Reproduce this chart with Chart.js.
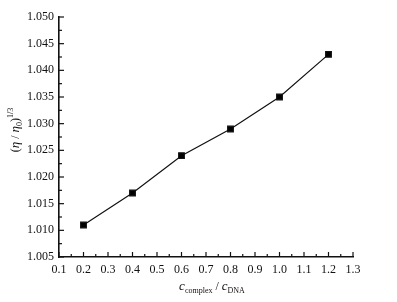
<!DOCTYPE html>
<html>
<head>
<meta charset="utf-8">
<script src="https://cdn.jsdelivr.net/npm/chart.js@4.4.1/dist/chart.umd.min.js"></script>
<style>
  body { margin: 0; background: #fff; }
  canvas { display: block; }
</style>
</head>
<body>
<canvas id="viscChart" width="397" height="302"></canvas>
<script>
// ratio c(complex)/c(DNA) and relative viscosity (eta/eta0)^(1/3)
const ratios = [0.2, 0.4, 0.6, 0.8, 1.0, 1.2];
const viscosity = [1.011, 1.017, 1.024, 1.029, 1.035, 1.043];

const xRange = [0.1, 1.3];
const yRange = [1.005, 1.050];

const serif = "'Liberation Serif', 'DejaVu Serif', serif";

// inward major + minor tick marks, like the origin-style plot
const tickPlugin = {
  id: 'inTicks',
  afterDraw(chart) {
    const ctx = chart.ctx;
    const xs = chart.scales.x, ys = chart.scales.y;
    const area = chart.chartArea;
    ctx.save();
    ctx.strokeStyle = '#111';
    ctx.lineWidth = 1.2;
    const xt = xs.ticks.map(t => t.value);
    for (let i = 0; i < xt.length; i++) {
      const px = xs.getPixelForValue(xt[i]);
      ctx.beginPath();
      ctx.moveTo(px, area.bottom);
      ctx.lineTo(px, area.bottom - 5);
      ctx.stroke();
      if (i < xt.length - 1) {
        const mx = xs.getPixelForValue((xt[i] + xt[i + 1]) / 2);
        ctx.beginPath();
        ctx.moveTo(mx, area.bottom);
        ctx.lineTo(mx, area.bottom - 3);
        ctx.stroke();
      }
    }
    const yt = ys.ticks.map(t => t.value);
    for (let i = 0; i < yt.length; i++) {
      const py = ys.getPixelForValue(yt[i]);
      ctx.beginPath();
      ctx.moveTo(area.left, py);
      ctx.lineTo(area.left + 5, py);
      ctx.stroke();
      if (i < yt.length - 1) {
        const my = ys.getPixelForValue((yt[i] + yt[i + 1]) / 2);
        ctx.beginPath();
        ctx.moveTo(area.left, my);
        ctx.lineTo(area.left + 3, my);
        ctx.stroke();
      }
    }
    ctx.restore();
  }
};

// axis titles with sub/superscripts
function drawRuns(ctx, runs, x, y) {
  let cx = x;
  runs.forEach(r => {
    ctx.font = r.font;
    ctx.fillText(r.text, cx, y + (r.dy || 0));
    cx += ctx.measureText(r.text).width;
  });
}
function runsWidth(ctx, runs) {
  let w = 0;
  runs.forEach(r => { ctx.font = r.font; w += ctx.measureText(r.text).width; });
  return w;
}

const titlePlugin = {
  id: 'titles',
  afterDraw(chart) {
    const ctx = chart.ctx;
    const area = chart.chartArea;
    ctx.save();
    ctx.fillStyle = '#111';
    ctx.textBaseline = 'alphabetic';

    const xRuns = [
      { text: 'c', font: 'italic 13px ' + serif },
      { text: 'complex', font: '8px ' + serif, dy: 3 },
      { text: ' / ', font: '12px ' + serif },
      { text: 'c', font: 'italic 13px ' + serif },
      { text: 'DNA', font: '8px ' + serif, dy: 3 }
    ];
    const xw = runsWidth(ctx, xRuns);
    drawRuns(ctx, xRuns, 212 - xw / 2, 290);

    const yRuns = [
      { text: '(', font: '12px ' + serif },
      { text: 'η', font: 'italic 13px ' + serif },
      { text: ' / ', font: '12px ' + serif },
      { text: 'η', font: 'italic 13px ' + serif },
      { text: '0', font: '8px ' + serif, dy: 3 },
      { text: ')', font: '12px ' + serif },
      { text: '1/3', font: '8px ' + serif, dy: -6 }
    ];
    const yw = runsWidth(ctx, yRuns);
    ctx.translate(19, 130);
    ctx.rotate(-Math.PI / 2);
    drawRuns(ctx, yRuns, -yw / 2, 0);
    ctx.restore();
  }
};

new Chart(document.getElementById('viscChart'), {
  type: 'scatter',
  data: {
    datasets: [{
      data: ratios.map((r, i) => ({ x: r, y: viscosity[i] })),
      showLine: true,
      borderColor: '#111',
      borderWidth: 1.2,
      backgroundColor: '#000',
      pointStyle: 'rect',
      pointRadius: 4,
      pointHoverRadius: 4
    }]
  },
  options: {
    responsive: false,
    animation: false,
    layout: { padding: { top: 17, right: 44, left: 0, bottom: 0 } },
    plugins: { legend: { display: false }, tooltip: { enabled: false } },
    scales: {
      x: {
        type: 'linear',
        min: xRange[0],
        max: xRange[1],
        afterFit(s) { s.height = 45; },
        grid: { display: false, drawTicks: false },
        border: { display: true, color: '#111', width: 1.6 },
        ticks: {
          stepSize: 0.1,
          padding: 6,
          color: '#111',
          font: { family: serif, size: 12 },
          callback: v => v.toFixed(1)
        }
      },
      y: {
        type: 'linear',
        min: yRange[0],
        max: yRange[1],
        afterFit(s) { s.width = 59; },
        grid: { display: false, drawTicks: false },
        border: { display: true, color: '#111', width: 1.6 },
        ticks: {
          stepSize: 0.005,
          padding: 5,
          color: '#111',
          font: { family: serif, size: 12 },
          callback: v => v.toFixed(3)
        }
      }
    }
  },
  plugins: [tickPlugin, titlePlugin]
});
</script>
</body>
</html>
